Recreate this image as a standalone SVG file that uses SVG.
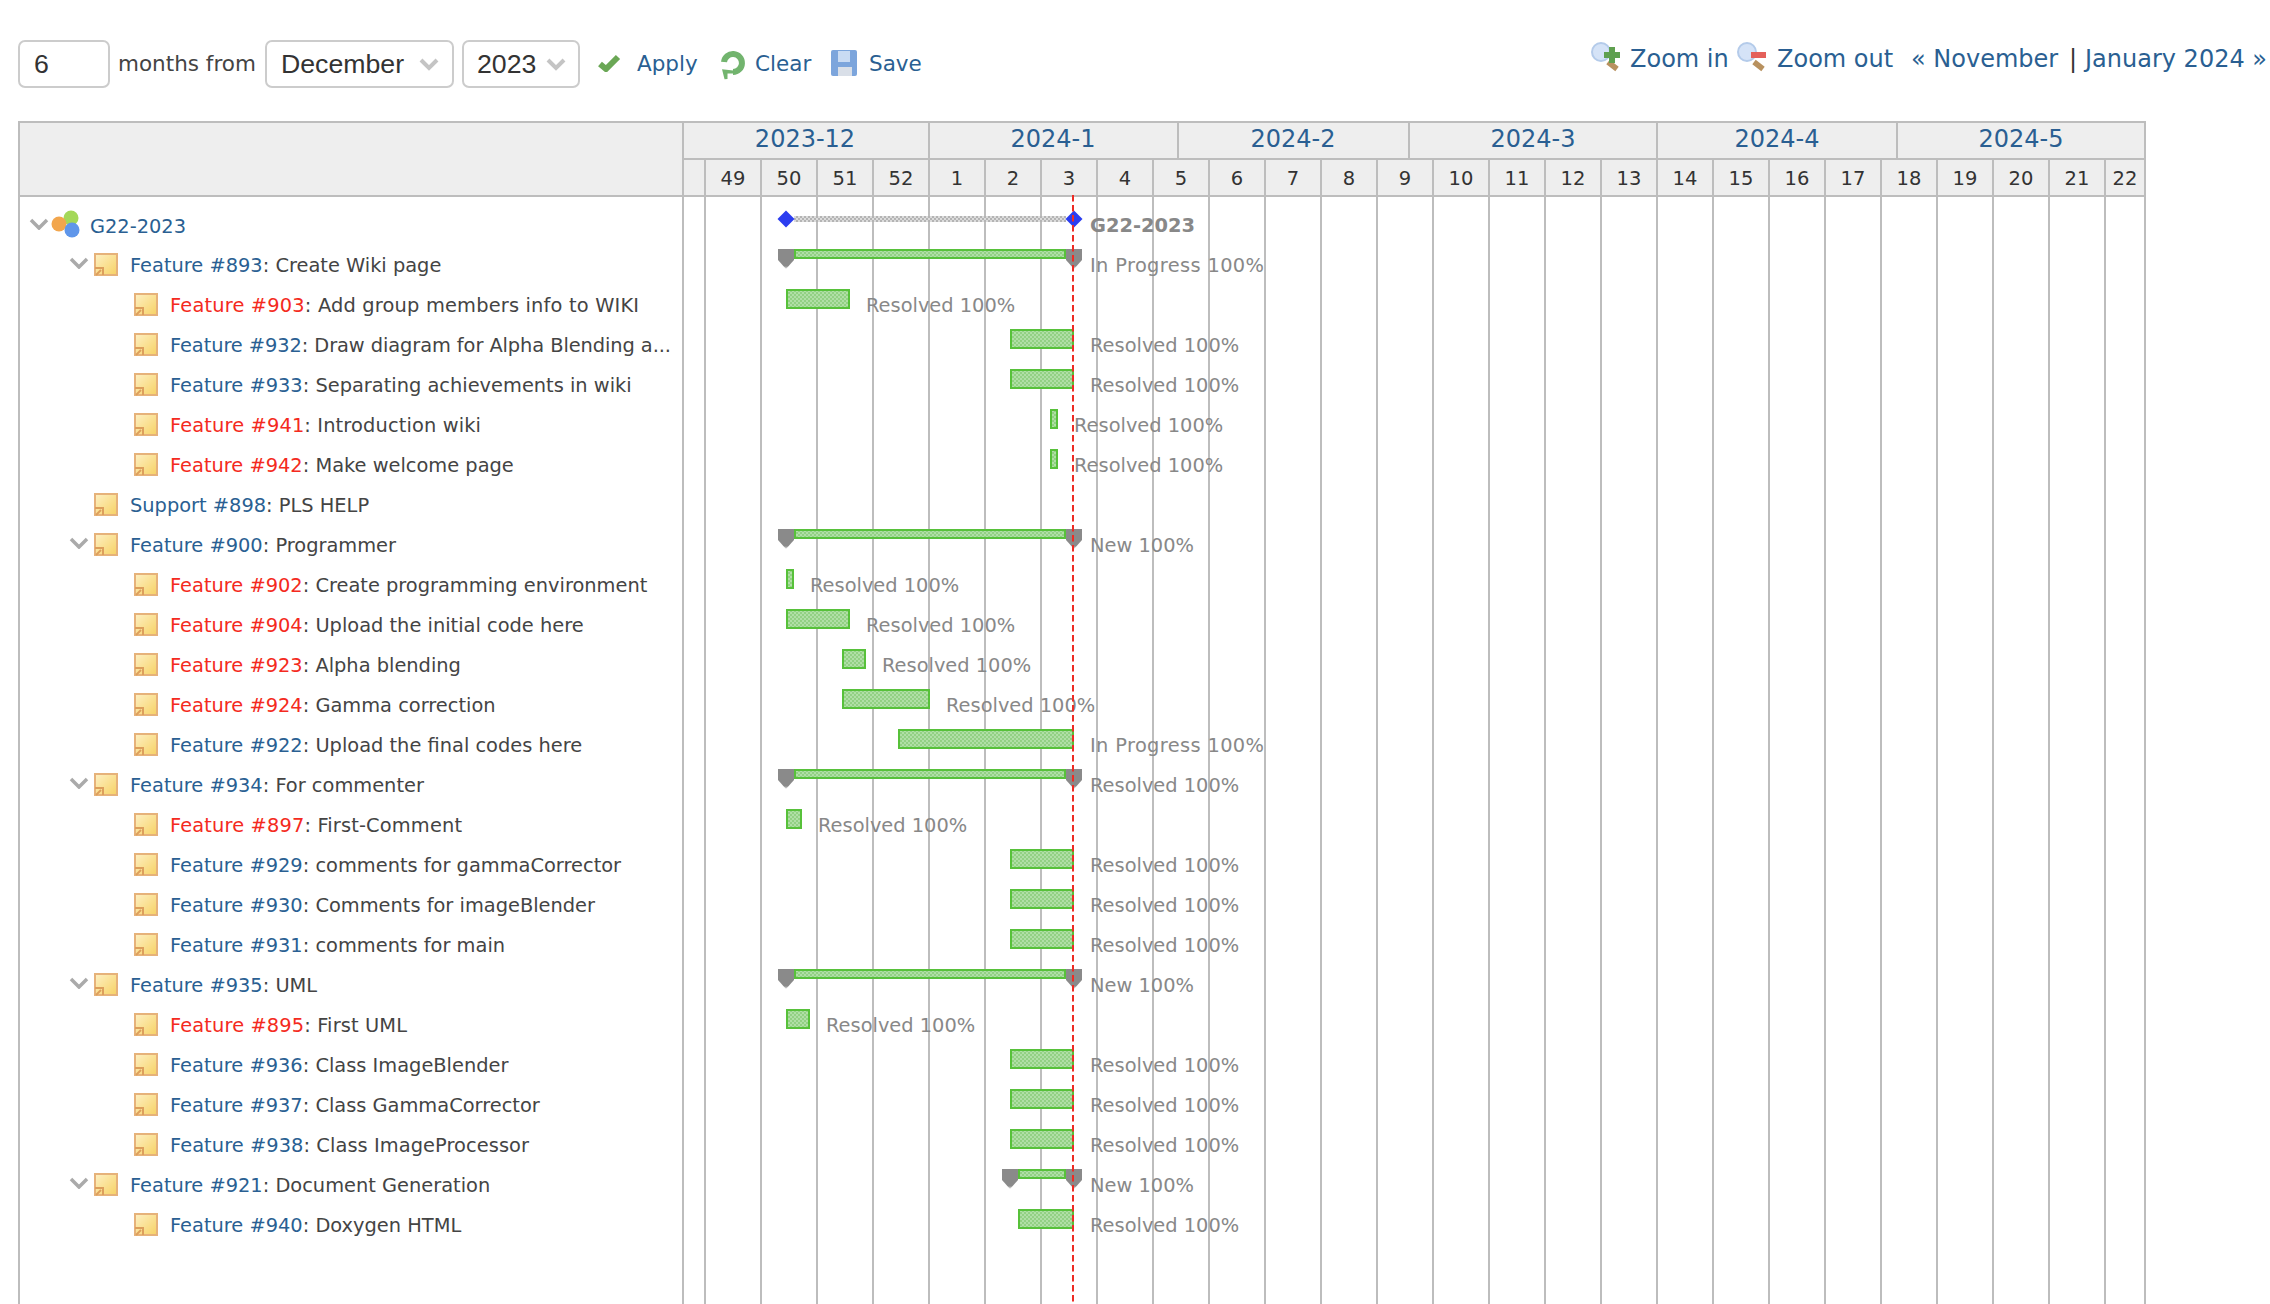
<svg xmlns="http://www.w3.org/2000/svg" width="2270" height="1304" viewBox="0 0 2270 1304">
<style>
text{font-family:"DejaVu Sans",Verdana,sans-serif;font-size:19.4px;fill:#444}
.a{fill:#2a5f92}.r{fill:#f42a20}.g{fill:#888}.b{font-weight:bold}
.m{font-size:24px;text-anchor:middle;fill:#2a5f92}.w{font-size:19.5px;text-anchor:middle;fill:#333}
.tb{font-size:21.5px}.top{font-size:24px;fill:#2a5f92}
.sel{font-family:"Liberation Sans",Arial,sans-serif;font-size:26.7px;fill:#333}
.grid{stroke:#bdbdbd;stroke-width:2;fill:none}
.box{fill:#fff;stroke:#ccc;stroke-width:2}
.chev{fill:none;stroke:#aaa;stroke-width:3.5}
.sc{fill:none;stroke:#c4c4c4;stroke-width:4}
.leaf{fill:url(#ck);stroke:#57c13a;stroke-width:2}
.par{fill:url(#ck);stroke:#57c13a;stroke-width:2}
.soft{filter:url(#bl)}
</style>
<defs>
<filter id="bl" x="-20%" y="-20%" width="140%" height="140%"><feGaussianBlur stdDeviation="0.6"/></filter>
<pattern id="ck" width="4" height="4" patternUnits="userSpaceOnUse"><rect width="4" height="4" fill="#b0dfa6"/><rect width="2" height="2" fill="#92d084"/><rect x="2" y="2" width="2" height="2" fill="#92d084"/></pattern>
<pattern id="gk" width="4" height="4" patternUnits="userSpaceOnUse"><rect width="4" height="4" fill="#dcdcdc"/><rect width="2" height="2" fill="#b4b4b4"/><rect x="2" y="2" width="2" height="2" fill="#b4b4b4"/></pattern>
<linearGradient id="ig" x1="0" y1="0" x2="1" y2="1"><stop offset="0" stop-color="#fdf0c4"/><stop offset="1" stop-color="#f7d264"/></linearGradient>
<linearGradient id="mg" x1="0" y1="0" x2="0" y2="1"><stop offset="0.6" stop-color="#8a8a8a"/><stop offset="0.85" stop-color="#8a8a8a"/><stop offset="1" stop-color="#8a8a8a" stop-opacity="0.15"/></linearGradient>
<g id="ico" class="soft"><rect x="1" y="1" width="22" height="21" fill="url(#ig)" stroke="#e6b27a" stroke-width="2"/><path d="M1 15h8v7" fill="none" stroke="#dd9f5c" stroke-width="2"/><path d="M2 22L7 17" stroke="#dd9f5c" stroke-width="2"/></g>
<path id="ch" d="M-8 -4L0 4L8 -4" class="chev soft"/>
<path id="mk" d="M0 0h16v11l-8 9l-8-9z" fill="url(#mg)"/>
<path id="dm" d="M0 -8.5L8.5 0L0 8.5L-8.5 0z" fill="#2b3df0"/>
</defs>

<g id="toolbar">
<rect class="box" x="19" y="41" width="90" height="46" rx="6"/><text x="34" y="73" class="sel">6</text>
<text x="118" y="71" class="tb">months from</text>
<rect class="box" x="266" y="41" width="187" height="46" rx="6"/><text x="281" y="73" class="sel">December</text>
<path d="M421 60l8 8l8-8" class="sc"/>
<rect class="box" x="463" y="41" width="116" height="46" rx="6"/><text x="477" y="73" class="sel">2023</text>
<path d="M548 60l8 8l8-8" class="sc"/>
<path class="soft" d="M600 64l6 5l12-12" fill="none" stroke="#6ba755" stroke-width="6"/>
<text x="637" y="71" class="tb a">Apply</text>
<g class="soft" fill="none" stroke="#72b46e"><path d="M724 62a9 9 0 1 1 9 10" stroke-width="6"/><path d="M733 72h-7v7l-2-8z" fill="#72b46e" stroke-width="3"/></g>
<text x="755" y="71" class="tb a">Clear</text>
<g class="soft"><rect x="831" y="50" width="26" height="26" rx="2" fill="#7ba5dc"/><rect x="838" y="51" width="12" height="11" fill="#c9dbf3"/><rect x="838" y="67" width="14" height="9" fill="#d9dfe8"/></g>
<text x="869" y="71" class="tb a">Save</text>
</g>

<g id="zoomlinks">
<g class="soft"><circle cx="1601" cy="52" r="9" fill="#d5e3f7" stroke="#b4cbea" stroke-width="2"/><path d="M1608 62l9 7" stroke="#b8915f" stroke-width="5.5"/><path d="M1612 47v16M1604 55h16" stroke="#5ea050" stroke-width="6"/></g>
<text x="1630" y="67" class="top">Zoom in</text>
<g class="soft"><circle cx="1747" cy="52" r="9" fill="#d5e3f7" stroke="#b4cbea" stroke-width="2"/><path d="M1754 62l9 7" stroke="#b8915f" stroke-width="5.5"/><path d="M1751 55h15" stroke="#e4605a" stroke-width="6"/></g>
<text x="1777" y="67" class="top">Zoom out</text>
<text x="1911" y="67" class="top">« November</text>
<text x="2069" y="67" class="top" style="fill:#333">|</text>
<text x="2085" y="67" class="top">January 2024 »</text>
</g>

<g id="header">
<rect x="19" y="122" width="2126" height="74" fill="#eee"/>
<path class="grid" d="M683 196V122M683 159H2145M929 122v37M1178 122v37M1409 122v37M1657 122v37M1897 122v37"/>
<path class="grid" d="M705 159v37M761 159v37M817 159v37M873 159v37M929 159v37M985 159v37M1041 159v37M1097 159v37M1153 159v37M1209 159v37M1265 159v37M1321 159v37M1377 159v37M1433 159v37M1489 159v37M1545 159v37M1601 159v37M1657 159v37M1713 159v37M1769 159v37M1825 159v37M1881 159v37M1937 159v37M1993 159v37M2049 159v37M2105 159v37"/>
<text class="m" x="805" y="147">2023-12</text><text class="m" x="1053" y="147">2024-1</text><text class="m" x="1293" y="147">2024-2</text><text class="m" x="1533" y="147">2024-3</text><text class="m" x="1777" y="147">2024-4</text><text class="m" x="2021" y="147">2024-5</text>
<text class="w" x="733" y="185">49</text><text class="w" x="789" y="185">50</text><text class="w" x="845" y="185">51</text><text class="w" x="901" y="185">52</text><text class="w" x="957" y="185">1</text><text class="w" x="1013" y="185">2</text><text class="w" x="1069" y="185">3</text><text class="w" x="1125" y="185">4</text><text class="w" x="1181" y="185">5</text><text class="w" x="1237" y="185">6</text><text class="w" x="1293" y="185">7</text><text class="w" x="1349" y="185">8</text><text class="w" x="1405" y="185">9</text><text class="w" x="1461" y="185">10</text><text class="w" x="1517" y="185">11</text><text class="w" x="1573" y="185">12</text><text class="w" x="1629" y="185">13</text><text class="w" x="1685" y="185">14</text><text class="w" x="1741" y="185">15</text><text class="w" x="1797" y="185">16</text><text class="w" x="1853" y="185">17</text><text class="w" x="1909" y="185">18</text><text class="w" x="1965" y="185">19</text><text class="w" x="2021" y="185">20</text><text class="w" x="2077" y="185">21</text><text class="w" x="2125" y="185">22</text>
</g>

<g id="grid">
<path class="grid" d="M19 1304V122H2145V1304M19 196H2145M683 196V1304M705 196V1304M761 196V1304M817 196V1304M873 196V1304M929 196V1304M985 196V1304M1041 196V1304M1097 196V1304M1153 196V1304M1209 196V1304M1265 196V1304M1321 196V1304M1377 196V1304M1433 196V1304M1489 196V1304M1545 196V1304M1601 196V1304M1657 196V1304M1713 196V1304M1769 196V1304M1825 196V1304M1881 196V1304M1937 196V1304M1993 196V1304M2049 196V1304M2105 196V1304"/>
</g>

<g id="rows">
<g id="r0"><use href="#ch" x="39" y="224"/><g class="soft"><circle cx="71" cy="218" r="7.5" fill="#a4d858"/><circle cx="59" cy="224" r="7.5" fill="#f2a64e"/><circle cx="72" cy="230" r="7.5" fill="#5e96ea"/></g><text x="90" y="233" class="a">G22-2023</text>
<rect x="794" y="216" width="272" height="6" fill="url(#gk)"/><use href="#dm" x="786" y="219"/><use href="#dm" x="1074" y="219"/><text x="1090" y="232" class="g b">G22-2023</text></g>
<g id="r1"><use href="#ch" x="79" y="263"/><use href="#ico" x="94" y="253"/><text x="130" y="272"><tspan class="a">Feature #893</tspan>: Create Wiki page</text>
<rect class="par" x="795" y="250" width="270" height="8"/><use href="#mk" x="778" y="249"/><use href="#mk" x="1066" y="249"/><text x="1090" y="272" class="g" textLength="174">In Progress 100%</text></g>
<g id="r2"><use href="#ico" x="134" y="293"/><text x="170" y="312" textLength="469"><tspan class="r">Feature #903</tspan>: Add group members info to WIKI</text><rect class="leaf" x="787" y="290" width="62" height="18"/><text x="866" y="312" class="g">Resolved 100%</text></g>
<g id="r3"><use href="#ico" x="134" y="333"/><text x="170" y="352" textLength="501"><tspan class="a">Feature #932</tspan>: Draw diagram for Alpha Blending a...</text><rect class="leaf" x="1011" y="330" width="62" height="18"/><text x="1090" y="352" class="g">Resolved 100%</text></g>
<g id="r4"><use href="#ico" x="134" y="373"/><text x="170" y="392"><tspan class="a">Feature #933</tspan>: Separating achievements in wiki</text><rect class="leaf" x="1011" y="370" width="62" height="18"/><text x="1090" y="392" class="g">Resolved 100%</text></g>
<g id="r5"><use href="#ico" x="134" y="413"/><text x="170" y="432" textLength="311"><tspan class="r">Feature #941</tspan>: Introduction wiki</text><rect class="leaf" x="1051" y="410" width="6" height="18"/><text x="1074" y="432" class="g">Resolved 100%</text></g>
<g id="r6"><use href="#ico" x="134" y="453"/><text x="170" y="472"><tspan class="r">Feature #942</tspan>: Make welcome page</text><rect class="leaf" x="1051" y="450" width="6" height="18"/><text x="1074" y="472" class="g">Resolved 100%</text></g>
<g id="r7"><use href="#ico" x="94" y="493"/><text x="130" y="512"><tspan class="a">Support #898</tspan>: PLS HELP</text></g>
<g id="r8"><use href="#ch" x="79" y="543"/><use href="#ico" x="94" y="533"/><text x="130" y="552"><tspan class="a">Feature #900</tspan>: Programmer</text><rect class="par" x="795" y="530" width="270" height="8"/><use href="#mk" x="778" y="529"/><use href="#mk" x="1066" y="529"/><text x="1090" y="552" class="g">New 100%</text></g>
<g id="r9"><use href="#ico" x="134" y="573"/><text x="170" y="592"><tspan class="r">Feature #902</tspan>: Create programming environment</text><rect class="leaf" x="787" y="570" width="6" height="18"/><text x="810" y="592" class="g">Resolved 100%</text></g>
<g id="r10"><use href="#ico" x="134" y="613"/><text x="170" y="632"><tspan class="r">Feature #904</tspan>: Upload the initial code here</text><rect class="leaf" x="787" y="610" width="62" height="18"/><text x="866" y="632" class="g">Resolved 100%</text></g>
<g id="r11"><use href="#ico" x="134" y="653"/><text x="170" y="672"><tspan class="r">Feature #923</tspan>: Alpha blending</text><rect class="leaf" x="843" y="650" width="22" height="18"/><text x="882" y="672" class="g">Resolved 100%</text></g>
<g id="r12"><use href="#ico" x="134" y="693"/><text x="170" y="712"><tspan class="r">Feature #924</tspan>: Gamma correction</text><rect class="leaf" x="843" y="690" width="86" height="18"/><text x="946" y="712" class="g">Resolved 100%</text></g>
<g id="r13"><use href="#ico" x="134" y="733"/><text x="170" y="752"><tspan class="a">Feature #922</tspan>: Upload the final codes here</text><rect class="leaf" x="899" y="730" width="174" height="18"/><text x="1090" y="752" class="g" textLength="174">In Progress 100%</text></g>
<g id="r14"><use href="#ch" x="79" y="783"/><use href="#ico" x="94" y="773"/><text x="130" y="792"><tspan class="a">Feature #934</tspan>: For commenter</text><rect class="par" x="795" y="770" width="270" height="8"/><use href="#mk" x="778" y="769"/><use href="#mk" x="1066" y="769"/><text x="1090" y="792" class="g">Resolved 100%</text></g>
<g id="r15"><use href="#ico" x="134" y="813"/><text x="170" y="832" textLength="292"><tspan class="r">Feature #897</tspan>: First-Comment</text><rect class="leaf" x="787" y="810" width="14" height="18"/><text x="818" y="832" class="g">Resolved 100%</text></g>
<g id="r16"><use href="#ico" x="134" y="853"/><text x="170" y="872"><tspan class="a">Feature #929</tspan>: comments for gammaCorrector</text><rect class="leaf" x="1011" y="850" width="62" height="18"/><text x="1090" y="872" class="g">Resolved 100%</text></g>
<g id="r17"><use href="#ico" x="134" y="893"/><text x="170" y="912"><tspan class="a">Feature #930</tspan>: Comments for imageBlender</text><rect class="leaf" x="1011" y="890" width="62" height="18"/><text x="1090" y="912" class="g">Resolved 100%</text></g>
<g id="r18"><use href="#ico" x="134" y="933"/><text x="170" y="952"><tspan class="a">Feature #931</tspan>: comments for main</text><rect class="leaf" x="1011" y="930" width="62" height="18"/><text x="1090" y="952" class="g">Resolved 100%</text></g>
<g id="r19"><use href="#ch" x="79" y="983"/><use href="#ico" x="94" y="973"/><text x="130" y="992"><tspan class="a">Feature #935</tspan>: UML</text><rect class="par" x="795" y="970" width="270" height="8"/><use href="#mk" x="778" y="969"/><use href="#mk" x="1066" y="969"/><text x="1090" y="992" class="g">New 100%</text></g>
<g id="r20"><use href="#ico" x="134" y="1013"/><text x="170" y="1032" textLength="237"><tspan class="r">Feature #895</tspan>: First UML</text><rect class="leaf" x="787" y="1010" width="22" height="18"/><text x="826" y="1032" class="g">Resolved 100%</text></g>
<g id="r21"><use href="#ico" x="134" y="1053"/><text x="170" y="1072"><tspan class="a">Feature #936</tspan>: Class ImageBlender</text><rect class="leaf" x="1011" y="1050" width="62" height="18"/><text x="1090" y="1072" class="g">Resolved 100%</text></g>
<g id="r22"><use href="#ico" x="134" y="1093"/><text x="170" y="1112"><tspan class="a">Feature #937</tspan>: Class GammaCorrector</text><rect class="leaf" x="1011" y="1090" width="62" height="18"/><text x="1090" y="1112" class="g">Resolved 100%</text></g>
<g id="r23"><use href="#ico" x="134" y="1133"/><text x="170" y="1152" textLength="359"><tspan class="a">Feature #938</tspan>: Class ImageProcessor</text><rect class="leaf" x="1011" y="1130" width="62" height="18"/><text x="1090" y="1152" class="g">Resolved 100%</text></g>
<g id="r24"><use href="#ch" x="79" y="1183"/><use href="#ico" x="94" y="1173"/><text x="130" y="1192"><tspan class="a">Feature #921</tspan>: Document Generation</text><rect class="par" x="1019" y="1170" width="46" height="8"/><use href="#mk" x="1002" y="1169"/><use href="#mk" x="1066" y="1169"/><text x="1090" y="1192" class="g">New 100%</text></g>
<g id="r25"><use href="#ico" x="134" y="1213"/><text x="170" y="1232"><tspan class="a">Feature #940</tspan>: Doxygen HTML</text><rect class="leaf" x="1019" y="1210" width="54" height="18"/><text x="1090" y="1232" class="g">Resolved 100%</text></g>
</g>

<path id="today" d="M1073 195V1304" stroke="#ee2b24" stroke-width="2" stroke-dasharray="6.5 3.5" fill="none"/>
</svg>
